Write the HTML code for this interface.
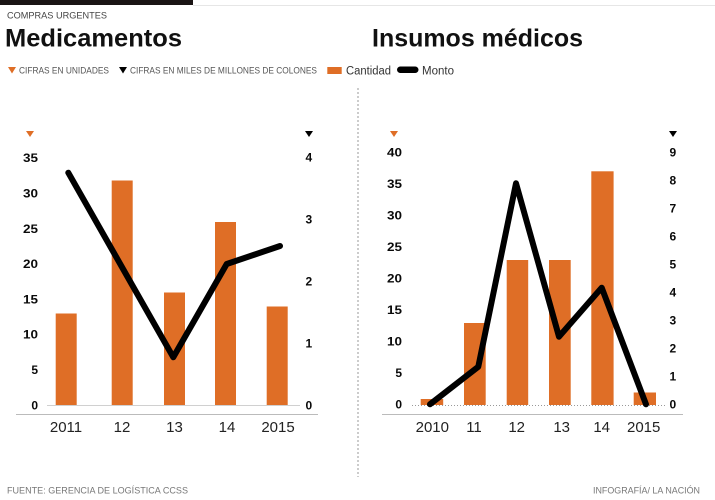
<!DOCTYPE html>
<html>
<head>
<meta charset="utf-8">
<style>
  html, body { margin:0; padding:0; background:#fff; }
  svg { display:block; }
  text { font-family: "Liberation Sans", "DejaVu Sans", sans-serif; }
  .yt { font-size:12px; font-weight:bold; fill:#0a0a0a; }
  .xt { font-size:15px; fill:#222; }
  .sm { font-size:9px; fill:#555; }
  .ft { font-size:9px; fill:#777; }
</style>
</head>
<body>
<svg width="715" height="500" viewBox="0 0 715 500" xmlns="http://www.w3.org/2000/svg">
  <rect x="0" y="0" width="715" height="500" fill="#fff"/>
  <!-- top bar -->
  <rect x="0" y="0" width="193" height="5" fill="#1a1414"/>
  <line x1="193" y1="5.5" x2="715" y2="5.5" stroke="#e6e6e6" stroke-width="1"/>

  <!-- header -->
  <text x="7" y="18.5" class="sm" textLength="100" lengthAdjust="spacingAndGlyphs" style="fill:#444">COMPRAS URGENTES</text>
  <text x="5" y="46.5" font-size="25" font-weight="bold" fill="#111" textLength="177" lengthAdjust="spacingAndGlyphs">Medicamentos</text>
  <text x="372" y="46.5" font-size="25" font-weight="bold" fill="#111" textLength="211" lengthAdjust="spacingAndGlyphs">Insumos médicos</text>

  <!-- legend -->
  <polygon points="8,67 16,67 12,73.5" fill="#DF6E26"/>
  <text x="19" y="73.5" class="sm" textLength="90" lengthAdjust="spacingAndGlyphs">CIFRAS EN UNIDADES</text>
  <polygon points="119,67 127,67 123,73.5" fill="#000"/>
  <text x="130" y="73.5" class="sm" textLength="187" lengthAdjust="spacingAndGlyphs">CIFRAS EN MILES DE MILLONES DE COLONES</text>
  <rect x="327.3" y="67" width="14.4" height="7" fill="#DF6E26"/>
  <text x="346" y="74.5" font-size="11.5" fill="#333" textLength="45" lengthAdjust="spacingAndGlyphs">Cantidad</text>
  <rect x="397" y="66.5" width="21.5" height="6.5" rx="3.25" fill="#000"/>
  <text x="422" y="74.5" font-size="11.5" fill="#333" textLength="32" lengthAdjust="spacingAndGlyphs">Monto</text>

  <!-- separator -->
  <line x1="358" y1="88" x2="358" y2="477" stroke="#999" stroke-width="1" stroke-dasharray="2,2"/>

  <!-- ===== LEFT CHART ===== -->
  <polygon points="26,131 34,131 30,137" fill="#DF6E26"/>
  <polygon points="305,131 313,131 309,137" fill="#000"/>
  <g class="yt" text-anchor="end">
    <text x="38" y="409.3">0</text>
    <text x="38" y="374">5</text>
    <text x="38" y="338.7" textLength="15" lengthAdjust="spacingAndGlyphs">10</text>
    <text x="38" y="303.4" textLength="15" lengthAdjust="spacingAndGlyphs">15</text>
    <text x="38" y="268.1" textLength="15" lengthAdjust="spacingAndGlyphs">20</text>
    <text x="38" y="232.8" textLength="15" lengthAdjust="spacingAndGlyphs">25</text>
    <text x="38" y="197.5" textLength="15" lengthAdjust="spacingAndGlyphs">30</text>
    <text x="38" y="162.2" textLength="15" lengthAdjust="spacingAndGlyphs">35</text>
  </g>
  <g class="yt">
    <text x="305.5" y="409.3">0</text>
    <text x="305.5" y="347.3">1</text>
    <text x="305.5" y="285.3">2</text>
    <text x="305.5" y="223.3">3</text>
    <text x="305.5" y="161.3">4</text>
  </g>
  <line x1="47" y1="405.5" x2="300" y2="405.5" stroke="#d0d0d0" stroke-width="1"/>
  <line x1="16" y1="414.5" x2="318" y2="414.5" stroke="#bbb" stroke-width="1"/>
  <g fill="#DF6E26">
    <rect x="55.7" y="313.5" width="21" height="91.5"/>
    <rect x="111.7" y="180.5" width="21" height="224.5"/>
    <rect x="164" y="292.5" width="21" height="112.5"/>
    <rect x="215" y="222" width="21" height="183"/>
    <rect x="266.7" y="306.5" width="21" height="98.5"/>
  </g>
  <polyline points="68.3,172.7 173.3,357.3 226.7,264 280,246" fill="none" stroke="#000" stroke-width="6" stroke-linejoin="round" stroke-linecap="round"/>
  <g class="xt" text-anchor="middle">
    <text x="66" y="432">2011</text>
    <text x="122" y="432">12</text>
    <text x="174.5" y="432">13</text>
    <text x="227" y="432">14</text>
    <text x="278" y="432">2015</text>
  </g>

  <!-- ===== RIGHT CHART ===== -->
  <polygon points="390,131 398,131 394,137" fill="#DF6E26"/>
  <polygon points="669,131 677,131 673,137" fill="#000"/>
  <g class="yt" text-anchor="end">
    <text x="402" y="408.6">0</text>
    <text x="402" y="377.1">5</text>
    <text x="402" y="345.6" textLength="15" lengthAdjust="spacingAndGlyphs">10</text>
    <text x="402" y="314.1" textLength="15" lengthAdjust="spacingAndGlyphs">15</text>
    <text x="402" y="282.6" textLength="15" lengthAdjust="spacingAndGlyphs">20</text>
    <text x="402" y="251.1" textLength="15" lengthAdjust="spacingAndGlyphs">25</text>
    <text x="402" y="219.6" textLength="15" lengthAdjust="spacingAndGlyphs">30</text>
    <text x="402" y="188.1" textLength="15" lengthAdjust="spacingAndGlyphs">35</text>
    <text x="402" y="156.6" textLength="15" lengthAdjust="spacingAndGlyphs">40</text>
  </g>
  <g class="yt">
    <text x="669.5" y="408.6">0</text>
    <text x="669.5" y="380.6">1</text>
    <text x="669.5" y="352.6">2</text>
    <text x="669.5" y="324.6">3</text>
    <text x="669.5" y="296.6">4</text>
    <text x="669.5" y="268.6">5</text>
    <text x="669.5" y="240.6">6</text>
    <text x="669.5" y="212.6">7</text>
    <text x="669.5" y="184.6">8</text>
    <text x="669.5" y="156.6">9</text>
  </g>
  <line x1="412" y1="405.5" x2="667" y2="405.5" stroke="#999" stroke-width="1" stroke-dasharray="1,2"/>
  <line x1="382" y1="414.5" x2="683" y2="414.5" stroke="#bbb" stroke-width="1"/>
  <g fill="#DF6E26">
    <rect x="420.7" y="399" width="22.5" height="6"/>
    <rect x="464" y="323" width="21.7" height="82"/>
    <rect x="506.7" y="260" width="21.5" height="145"/>
    <rect x="549" y="260" width="21.7" height="145"/>
    <rect x="591.3" y="171.3" width="22.3" height="233.7"/>
    <rect x="633.7" y="392.5" width="22.3" height="12.5"/>
  </g>
  <polyline points="430,404.3 478.3,366.7 516,183.3 559,336.7 601.7,287.7 646,404.3" fill="none" stroke="#000" stroke-width="6" stroke-linejoin="round" stroke-linecap="round"/>
  <g class="xt" text-anchor="middle">
    <text x="432.3" y="432">2010</text>
    <text x="474" y="432">11</text>
    <text x="516.7" y="432">12</text>
    <text x="561.7" y="432">13</text>
    <text x="601.7" y="432">14</text>
    <text x="643.7" y="432">2015</text>
  </g>

  <!-- footer -->
  <text x="7" y="493.3" class="ft" textLength="181" lengthAdjust="spacingAndGlyphs">FUENTE: GERENCIA DE LOGÍSTICA CCSS</text>
  <text x="593" y="493.3" class="ft" textLength="107" lengthAdjust="spacingAndGlyphs">INFOGRAFÍA/ LA NACIÓN</text>
</svg>
</body>
</html>
